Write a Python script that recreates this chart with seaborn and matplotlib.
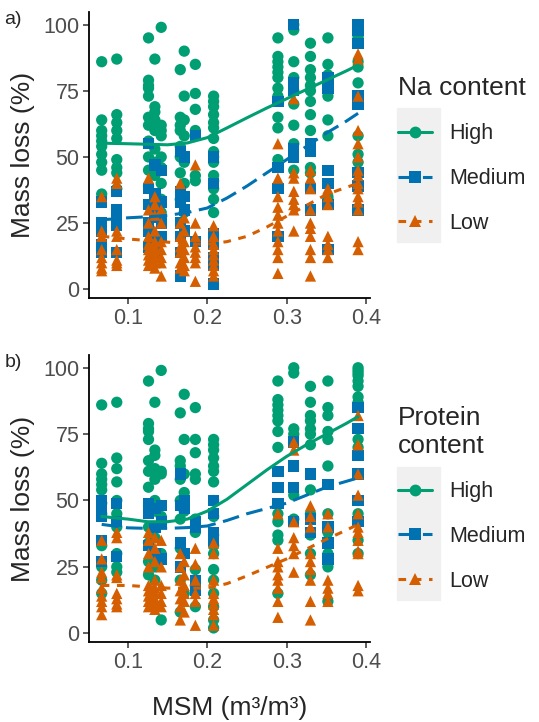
import numpy as np
import pandas as pd
import matplotlib
matplotlib.use('Agg')
import matplotlib.pyplot as plt
from matplotlib.lines import Line2D
from matplotlib.patches import Rectangle
import seaborn as sns

# sampling sites (MSM, m3/m3)
x_sites = [0.067, 0.086, 0.126, 0.134, 0.142, 0.166, 0.171, 0.185, 0.208,
           0.289, 0.309, 0.330, 0.352, 0.390]

# a) mass loss by Na content, one list per site
na_high = [[86, 64, 60, 58, 56, 54, 51, 48, 45, 36], [87, 66, 63, 60, 57, 49, 46, 44, 38],
           [95, 79, 77, 76, 73, 65, 62, 56, 50, 45, 39], [87, 69, 67, 64, 60, 53, 48, 43, 36, 33],
           [99, 62, 60, 58, 50, 46, 40, 34, 29], [83, 65, 62, 60, 54, 50, 44, 34],
           [90, 73, 64, 58, 48, 40, 29], [85, 74, 68, 60, 43, 41],
           [73, 71, 69, 66, 63, 61, 57, 52, 50, 48, 43, 41, 38, 34, 29],
           [95, 88, 86, 84, 82, 80, 76, 73, 65, 61, 49], [100, 98, 86, 80, 75, 70, 62, 55, 45],
           [93, 88, 83, 80, 77, 75, 71, 66, 60, 46, 44], [95, 85, 81, 78, 73, 64, 58, 35, 34],
           [99, 98, 97, 96, 95, 93, 86, 84, 78, 58, 51, 48]]
na_medium = [[33, 25, 22, 17, 14], [37, 30, 26, 24, 14], [55, 38, 32, 25, 22, 16],
             [47, 36, 30, 27, 18, 14], [45, 33, 25, 20], [52, 37, 33, 25, 20, 14, 5],
             [50, 35, 30, 22], [58, 18], [50, 40, 21, 17, 12, 9, 2], [71, 46, 38, 20],
             [100, 78, 75, 53, 50], [55, 52, 38, 30], [80, 76, 45, 40, 32, 15],
             [100, 98, 93, 73, 70, 44, 39, 30]]
na_low = [[35, 22, 20, 15, 12, 10, 8, 7], [42, 40, 22, 20, 15, 11, 10, 9],
          [42, 30, 25, 20, 17, 15, 13, 11, 9], [35, 32, 28, 22, 18, 16, 14, 12, 10, 8],
          [30, 25, 18, 15, 12, 10, 5], [40, 25, 20, 16, 14, 10, 8], [27, 22, 18, 15, 12, 9, 7],
          [47, 25, 20, 16, 14, 12, 10, 3], [24, 20, 17, 15, 13, 11, 9, 7, 5],
          [55, 42, 35, 31, 28, 25, 22, 18, 15, 12, 6], [72, 44, 42, 37, 34, 32, 30, 22],
          [45, 42, 38, 30, 25, 23, 20, 15, 12, 5], [38, 35, 32, 20, 17, 15, 12],
          [89, 87, 73, 60, 55, 50, 45, 43, 40, 38, 35, 33, 30, 18, 15]]

# b) mass loss by protein content
pr_high = [[86, 64, 60, 58, 56, 54, 49, 45, 33, 25, 20, 15], [87, 66, 62, 57, 50, 45, 40, 30, 25, 23],
           [95, 79, 77, 76, 73, 65, 61, 55, 48, 40, 34, 27, 22], [87, 69, 67, 62, 58, 50, 46, 36, 30, 25, 20],
           [99, 61, 60, 44, 30, 5], [83, 65, 63, 58, 50, 43, 32, 20, 8], [90, 73, 60, 53, 46, 30, 15],
           [85, 73, 68, 60, 58, 43, 38, 24, 18, 10],
           [73, 71, 69, 66, 63, 61, 57, 50, 44, 37, 33, 30, 24, 20, 15, 10, 5, 2],
           [95, 88, 86, 84, 82, 80, 76, 70, 45, 42, 37, 35, 15], [100, 98, 77, 75, 52, 43],
           [93, 87, 82, 80, 77, 75, 71, 54, 45, 37, 30, 22], [95, 85, 82, 76, 73, 63, 45, 38, 35, 30, 25, 12],
           [100, 99, 98, 97, 95, 93, 89, 87, 73, 70, 50, 45, 35, 30]]
pr_medium = [[50, 46, 44, 35, 27], [49, 42, 29], [49, 45, 33], [47, 40, 30], [48, 42, 28],
             [60, 48, 34, 25], [50, 47, 30], [42, 40, 20, 16], [50, 45, 38, 35], [61, 55, 49],
             [72, 63, 55, 42], [60, 43, 38], [56, 40, 34, 28], [85, 77, 67, 60, 50, 42]]
pr_low = [[35, 28, 23, 21, 17, 14, 12, 10, 7], [38, 36, 22, 21, 15, 13, 11, 10],
          [38, 35, 30, 25, 18, 16, 14, 12, 10], [36, 32, 27, 20, 17, 15, 13, 11, 9],
          [35, 25, 18, 15, 12, 10], [30, 25, 20, 16, 13, 10, 5], [27, 22, 18, 15, 12, 8],
          [32, 26, 20, 15, 12, 3], [34, 30, 20, 15, 13, 11, 9, 7, 3],
          [45, 32, 27, 25, 22, 20, 17, 12, 6], [72, 69, 42, 36, 33, 30, 23],
          [48, 44, 40, 30, 27, 24, 20, 12, 5], [45, 40, 20, 17, 15, 12],
          [82, 71, 60, 52, 45, 40, 38, 35, 31, 30, 18, 16]]

# smoothed trends
fit_x = [0.067, 0.085, 0.1, 0.125, 0.15, 0.175, 0.2, 0.225, 0.25, 0.275, 0.3, 0.325, 0.35, 0.375, 0.39]
na_high_fit = [55.2, 55.1, 55.0, 54.8, 54.6, 55.3, 57.3, 61, 64.8, 68.5, 72, 75.5, 79, 82.5, 84.7]
na_medium_fit = [26.3, 26.6, 27, 27.4, 27.9, 29, 30.7, 34.5, 39, 44, 49, 54, 59, 63.5, 66.5]
na_low_fit = [20, 19.5, 19, 18.4, 17.8, 17.2, 17, 18, 20, 23.5, 27.6, 31.7, 35.8, 38.5, 40]
pr_high_fit = [44, 43.4, 43, 42, 42, 43, 46, 50.5, 56, 61.5, 66.6, 71, 75, 79, 81.6]
pr_medium_fit = [41, 40.3, 39.7, 39.5, 39.5, 39.8, 40.4, 42.5, 45, 47, 49, 52, 55, 57.2, 58.5]
pr_low_fit = [18, 18, 18, 17.5, 17, 17, 17, 18.7, 21.6, 24.8, 28, 31.7, 35.4, 38.8, 41]

levels = ['High', 'Medium', 'Low']
colors = {'High': '#009E73', 'Medium': '#0072B2', 'Low': '#D55E00'}
markers = {'High': 'o', 'Medium': 's', 'Low': '^'}
dashes = {'High': '', 'Medium': (5.5, 2.5), 'Low': (2.5, 2.5)}


def points_df(series):
    rows = []
    for lev, vals in zip(levels, series):
        for x, ys in zip(x_sites, vals):
            for y in ys:
                rows.append((x, y, lev))
    return pd.DataFrame(rows, columns=['msm', 'loss', 'group'])


def fit_df(fits):
    rows = []
    for lev, ys in zip(levels, fits):
        for x, y in zip(fit_x, ys):
            rows.append((x, y, lev))
    return pd.DataFrame(rows, columns=['msm', 'loss', 'group'])


sns.set_style('ticks')
plt.rcParams['font.family'] = ['Liberation Sans', 'DejaVu Sans']

fig = plt.figure(figsize=(5.39, 7.22), dpi=100)
ax_a = fig.add_axes([0.1651, 0.5873, 0.5213, 0.3961])
ax_b = fig.add_axes([0.1651, 0.1108, 0.5213, 0.3975])

panels = [(ax_a, [na_high, na_medium, na_low], [na_high_fit, na_medium_fit, na_low_fit], 'a)', 'Na content', 0.895),
          (ax_b, [pr_high, pr_medium, pr_low], [pr_high_fit, pr_medium_fit, pr_low_fit], 'b)', 'Protein\ncontent', 0.438)]

for ax, pts, fits, tag, ltitle, ly in panels:
    sns.scatterplot(data=points_df(pts), x='msm', y='loss', hue='group', style='group',
                    hue_order=levels, style_order=levels, palette=colors, markers=markers,
                    s=66, linewidth=0, ax=ax, legend=False, zorder=2)
    sns.lineplot(data=fit_df(fits), x='msm', y='loss', hue='group', style='group',
                 hue_order=levels, style_order=levels, palette=colors, dashes=dashes,
                 linewidth=2.2, ax=ax, legend=False, zorder=3)
    ax.set_xlim(0.051, 0.405)
    ax.set_ylim(-3.3, 104.8)
    ax.set_xticks([0.1, 0.2, 0.3, 0.4])
    ax.set_yticks([0, 25, 50, 75, 100])
    ax.set_ylabel('Mass loss (%)', fontsize=19, labelpad=6)
    ax.set_xlabel('')
    ax.tick_params(labelsize=15.5, colors='#4D4D4D', length=4, width=1.1, pad=3)
    ax.tick_params(color='#333333')
    for sp in ['top', 'right']:
        ax.spines[sp].set_visible(False)
    for sp in ['left', 'bottom']:
        ax.spines[sp].set_linewidth(1.3)
        ax.spines[sp].set_color('black')
    fig.text(0.008, ax.get_position().y1 - 0.01, tag, fontsize=14, ha='left', va='center')

    handles = [Line2D([], [], color=colors[l], marker=markers[l], markersize=8.5,
                      linestyle='-' if l == 'High' else (0, dashes[l]), linewidth=2.2,
                      markeredgewidth=0) for l in levels]
    fig.legend(handles, levels, loc='upper left', bbox_to_anchor=(0.738, ly), frameon=False,
               title=ltitle, title_fontsize=19, fontsize=15.5, alignment='left',
               handlelength=1.6, handletextpad=0.8, labelspacing=1.1, borderpad=0,
               borderaxespad=0)

ax_b.set_xlabel('MSM (m³/m³)', fontsize=19, labelpad=17)

# grey legend key backgrounds
fig.patches.append(Rectangle((397 / 539, 1 - 242 / 722), 43 / 539, 134 / 722,
                             transform=fig.transFigure, color='#F0F0F0', zorder=0))
fig.patches.append(Rectangle((397 / 539, 1 - 600 / 722), 43 / 539, 133 / 722,
                             transform=fig.transFigure, color='#F0F0F0', zorder=0))

fig.savefig('out.png', dpi=100)
